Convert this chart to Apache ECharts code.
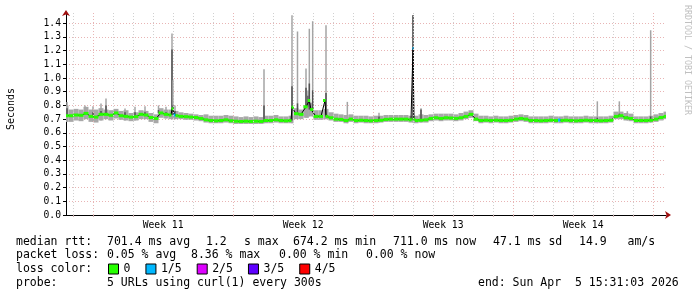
<!DOCTYPE html>
<html><head><meta charset="utf-8">
<script src="https://cdn.jsdelivr.net/npm/echarts@6/dist/echarts.min.js"></script>
<style>html,body{margin:0;padding:0;background:#fff}#c{width:697px;height:297px}</style>
</head><body><div id="c"></div>
<script>
// ---------- DATA ----------
const START = Date.UTC(2026, 2, 6, 15, 31, 3);
const END = Date.UTC(2026, 3, 5, 15, 31, 3);
const HOUR = 3600000;
const STEP_HOURS = 6; // base samples every 6 hours from START

const medianBase = [
 0.725,0.725,0.73,0.728,0.742,0.72,0.715,0.735,0.735,0.728,
 0.745,0.725,0.72,0.715,0.718,0.735,0.73,0.712,0.705,0.745,
 0.735,0.73,0.725,0.72,0.718,0.715,0.712,0.705,0.695,0.69,
 0.688,0.69,0.695,0.688,0.685,0.683,0.685,0.683,0.685,0.683,
 0.69,0.69,0.695,0.69,0.688,0.69,0.74,0.735,0.79,0.77,
 0.72,0.72,0.72,0.71,0.70,0.698,0.69,0.70,0.69,0.692,
 0.69,0.688,0.69,0.692,0.698,0.70,0.70,0.70,0.70,0.695,
 0.69,0.692,0.695,0.705,0.71,0.705,0.71,0.708,0.705,0.71,
 0.72,0.735,0.70,0.69,0.692,0.69,0.692,0.69,0.69,0.692,
 0.70,0.705,0.70,0.69,0.69,0.688,0.69,0.692,0.69,0.69,
 0.692,0.69,0.688,0.69,0.692,0.69,0.69,0.688,0.69,0.692,
 0.72,0.725,0.71,0.705,0.69,0.69,0.69,0.692,0.70,0.712,
 0.72
];
const smokeLo = [
 0.68,0.68,0.69,0.685,0.70,0.68,0.675,0.69,0.70,0.69,
 0.705,0.695,0.69,0.685,0.69,0.70,0.70,0.68,0.67,0.71,
 0.705,0.70,0.70,0.70,0.695,0.695,0.69,0.685,0.675,0.67,
 0.67,0.67,0.675,0.67,0.665,0.665,0.665,0.665,0.665,0.665,
 0.67,0.67,0.675,0.67,0.67,0.67,0.70,0.70,0.71,0.72,
 0.695,0.695,0.70,0.69,0.68,0.68,0.67,0.68,0.67,0.675,
 0.67,0.67,0.67,0.675,0.68,0.68,0.68,0.68,0.68,0.675,
 0.67,0.675,0.675,0.685,0.69,0.685,0.69,0.69,0.685,0.69,
 0.70,0.71,0.685,0.67,0.675,0.67,0.675,0.67,0.67,0.675,
 0.68,0.685,0.68,0.67,0.67,0.67,0.67,0.675,0.67,0.67,
 0.675,0.67,0.67,0.67,0.675,0.67,0.67,0.67,0.67,0.675,
 0.70,0.70,0.69,0.685,0.67,0.67,0.67,0.675,0.68,0.69,
 0.70
];
const smokeHi = [
 0.80,0.77,0.775,0.77,0.79,0.77,0.77,0.78,0.77,0.765,
 0.775,0.76,0.765,0.745,0.75,0.765,0.76,0.745,0.735,0.78,
 0.77,0.77,0.76,0.75,0.745,0.74,0.735,0.73,0.735,0.725,
 0.725,0.725,0.73,0.725,0.72,0.715,0.72,0.715,0.72,0.715,
 0.725,0.725,0.73,0.72,0.72,0.725,0.78,0.77,0.80,0.82,
 0.765,0.765,0.775,0.75,0.74,0.735,0.73,0.735,0.725,0.725,
 0.725,0.72,0.725,0.725,0.73,0.73,0.73,0.73,0.73,0.725,
 0.725,0.735,0.73,0.735,0.74,0.74,0.74,0.74,0.735,0.745,
 0.755,0.765,0.74,0.725,0.725,0.72,0.725,0.72,0.72,0.725,
 0.73,0.735,0.73,0.72,0.72,0.72,0.72,0.725,0.72,0.72,
 0.725,0.72,0.72,0.72,0.725,0.72,0.72,0.72,0.72,0.725,
 0.755,0.755,0.745,0.74,0.72,0.72,0.72,0.725,0.735,0.745,
 0.755
];
// extra median samples (hours after START), with loss count out of 5
const extraHours  = [127.2, 130.8, 271.2, 292.0, 310.8, 415.2, 416.4, 417.6, 592.8];
const extraMedian = [0.775, 0.73, 0.787, 0.836, 0.836, 0.70, 1.215, 0.70, 0.693];
const extraLoss   = [0, 1, 0, 0, 0, 0, 1, 0, 1];
// smoke spikes: hours after START, top of inner (dark) smoke, top of outer (light) smoke
const spikeHours = [1.2, 22.8, 32.4, 42, 48, 70.8, 82.8, 94.8, 111, 120, 127.2, 128.4, 130.8,
  237.6, 271.2, 277.8, 288, 290.4, 292, 296, 312, 337.6, 375.6, 416.4, 426, 484.8, 637.6, 664, 673.6, 701.6];
const spikeDark = [0.78, 0.74, 0.75, 0.76, 0.80, 0.75, 0.75, 0.75, 0.766, 0.75, 1.208, 0.80, 0.76,
  0.80, 0.94, 0.815, 0.93, 0.87, 0.96, 0.91, 0.89, 0.70, 0.72, 1.458, 0.77, 0.745, 0.71, 0.74, 0.72, 0.72];
const spikeLight = [0.825, 0.80, 0.795, 0.815, 0.851, 0.778, 0.79, 0.795, 0.80, 0.79, 1.325, 0.984, 0.80,
  1.065, 1.458, 1.34, 1.07, 0.91, 1.36, 1.415, 1.385, 0.826, 0.746, 1.46, 0.78, 0.758, 0.83, 0.83, 0.758, 1.349];

const yTickValues = [0, 0.1, 0.2, 0.3, 0.4, 0.5, 0.6, 0.7, 0.8, 0.9, 1.0, 1.1, 1.2, 1.3, 1.4];
const weekLabels = ['Week 11', 'Week 12', 'Week 13', 'Week 14'];
const weekCenters = [Date.UTC(2026,2,11,12), Date.UTC(2026,2,18,12), Date.UTC(2026,2,25,12), Date.UTC(2026,3,1,12)];
const lossNames = ['0', '1/5', '2/5', '3/5', '4/5'];
const lossColors = ['#26ff00', '#00b8ff', '#dd00ff', '#5e00ff', '#ff0000'];
const statTexts = [
  ['median rtt:', '701.4 ms avg', '1.2', 's max', '674.2 ms min', '711.0 ms now', '47.1 ms sd', '14.9   am/s'],
  ['packet loss:', '0.05 % avg', '8.36 % max', '0.00 % min', '0.00 % now'],
  ['loss color:'],
  ['probe:', '5 URLs using curl(1) every 300s', 'end: Sun Apr  5 15:31:03 2026']
];
const credit = 'RRDTOOL / TOBI OETIKER';
const yName = 'Seconds';

// ---------- LAYOUT ----------
const statX = [[16, 107, 206, 244, 293, 393, 493, 579], [16, 107, 191, 279, 366], [16], [16, 107, 478]];
const rowY = [241.7, 255, 269.3, 282.7];
const MONO = '"DejaVu Sans Mono", monospace';
const Y_MAX = 1.475;

// day grid lines
const dayLines = [], sundayLines = [];
for (let d = 7; d <= 36; d++) {
  const t = Date.UTC(2026, 2, d);
  if (t > END) break;
  if (new Date(t).getUTCDay() === 0) sundayLines.push(t); else dayLines.push(t);
}
const allDays = dayLines.concat(sundayLines).sort((a, b) => a - b);

// median samples merged
const med = medianBase.map((v, i) => [START + i * STEP_HOURS * HOUR, v, 0]);
extraHours.forEach((h, i) => med.push([START + h * HOUR, extraMedian[i], extraLoss[i]]));
med.sort((a, b) => a[0] - b[0]);
const STEP = STEP_HOURS * HOUR;
const medItems = med.map((p, i) => {
  const prev = i > 0 ? p[0] - med[i - 1][0] : STEP;
  const next = i < med.length - 1 ? med[i + 1][0] - p[0] : STEP;
  return [p[0], p[1], p[2], p[0] - prev / 2, p[0] + next / 2];
});
const smokeItems = medianBase.map((v, i) => [START + i * STEP, smokeLo[i], smokeHi[i]]);
const spikeItems = spikeHours.map((h, i) => {
  const bi = Math.min(medianBase.length - 1, Math.round(h / STEP_HOURS));
  return [START + h * HOUR, smokeLo[bi], medianBase[bi], spikeDark[i], spikeLight[i]];
});

const chart = echarts.init(document.getElementById('c'), null, { renderer: 'canvas' });

function axisArrowY() {
  return { type: 'value', min: 0, max: Y_MAX, position: 'left', z: 5,
    axisLine: { show: true, onZero: false, symbol: ['none', 'arrow'], symbolSize: [6, 6], symbolOffset: [0, 3],
      lineStyle: { color: '#a01010', opacity: 0 } },
    axisTick: { show: false }, axisLabel: { show: false }, splitLine: { show: false } };
}

const option = {
  animation: false,
  backgroundColor: '#fff',
  grid: { left: 66, right: 31, top: 13, bottom: 82 },
  xAxis: [{
    type: 'value', min: START, max: END,
    axisLine: { show: true, onZero: false, lineStyle: { color: '#000', width: 1 } },
    axisTick: { show: true, customValues: allDays, length: 2, lineStyle: { color: '#c8a8a8' } },
    axisLabel: { customValues: weekCenters, formatter: v => weekLabels[weekCenters.indexOf(v)] || '',
      fontFamily: MONO, fontSize: 9.7, color: '#000', margin: 5 },
    splitLine: { show: false }
  }, {
    type: 'value', min: START, max: END, position: 'bottom',
    axisLine: { show: true, onZero: false, symbol: ['none', 'arrow'], symbolSize: [6, 6], symbolOffset: [0, 5],
      lineStyle: { color: '#a01010', opacity: 0 } },
    axisTick: { show: false }, axisLabel: { show: false }, splitLine: { show: false }
  }],
  yAxis: [{
    type: 'value', min: 0, max: Y_MAX,
    axisLine: { show: true, onZero: false, lineStyle: { color: '#000', width: 1 } },
    axisTick: { show: true, customValues: yTickValues, length: 3, lineStyle: { color: '#000' } },
    axisLabel: { customValues: yTickValues, formatter: v => v.toFixed(1), fontFamily: MONO, fontSize: 9.7, color: '#000', margin: 5 },
    splitLine: { show: true, lineStyle: { color: '#e8b4b4', width: 1, type: [1, 2] } }
  }, axisArrowY()],
  legend: {
    data: lossNames, left: 108, top: 263, padding: 0, itemWidth: 10, itemHeight: 10, itemGap: 15,
    icon: 'rect', selectedMode: false,
    textStyle: { fontFamily: MONO, fontSize: 11.5, color: '#000' },
    itemStyle: { borderColor: '#000', borderWidth: 1 }
  },
  graphic: [
    { type: 'text', x: 11, y: 109, rotation: Math.PI / 2,
      style: { text: yName, fontFamily: MONO, fontSize: 10, fill: '#000', align: 'center', verticalAlign: 'middle' } },
    { type: 'text', x: 687, y: 60, rotation: -Math.PI / 2,
      style: { text: credit, fontFamily: MONO, fontSize: 8.3, fill: '#c0c0c0', align: 'center', verticalAlign: 'middle' } }
  ].concat(...statTexts.map((row, r) => row.map((txt, k) => ({
    type: 'text', x: statX[r][k], y: rowY[r],
    style: { text: txt, fontFamily: MONO, fontSize: 11.5, fill: '#000', align: 'left', verticalAlign: 'middle' }
  })))),
  series: [
    { type: 'line', data: [], z: 0, silent: true,
      markLine: { silent: true, symbol: ['none', 'none'], label: { show: false },
        lineStyle: { color: '#d0d0d0', type: [1, 2], width: 1 }, emphasis: { disabled: true },
        data: dayLines.map(t => ({ xAxis: t })) } },
    { type: 'line', data: [], z: 0, silent: true,
      markLine: { silent: true, symbol: ['none', 'none'], label: { show: false },
        lineStyle: { color: '#e8b4b4', type: [1, 2], width: 1 }, emphasis: { disabled: true },
        data: sundayLines.map(t => ({ xAxis: t })) } },
    { type: 'custom', z: 1, silent: true, clip: true, data: smokeItems,
      renderItem: (params, api) => {
        const a = api.coord([api.value(0) - STEP / 2, api.value(2)]);
        const b = api.coord([api.value(0) + STEP / 2, api.value(1)]);
        return { type: 'rect', shape: { x: a[0], y: a[1], width: b[0] - a[0], height: b[1] - a[1] },
          style: { fill: '#a8a8a8' } };
      } },
    { type: 'custom', z: 2, silent: true, clip: true, data: spikeItems,
      renderItem: (params, api) => {
        const t = api.value(0);
        const lo = api.coord([t, api.value(1)]);
        const md = api.coord([t, api.value(2)]);
        const dk = api.coord([t, api.value(3)]);
        const lt = api.coord([t, api.value(4)]);
        return { type: 'group', children: [
          { type: 'rect', shape: { x: lo[0] - 0.75, y: lt[1], width: 1.5, height: lo[1] - lt[1] }, style: { fill: '#a4a4a4' } },
          { type: 'rect', shape: { x: lo[0] - 0.75, y: dk[1], width: 1.5, height: Math.max(0, md[1] - dk[1]) }, style: { fill: '#505050' } }
        ] };
      } },
    { type: 'line', z: 3, silent: true, data: med.map(p => [p[0], p[1]]), showSymbol: false, symbol: 'none',
      lineStyle: { color: '#000', width: 1 } },
    { type: 'custom', z: 4, silent: true, clip: true, data: medItems,
      renderItem: (params, api) => {
        const v = api.value(1);
        const a = api.coord([api.value(3), v]);
        const b = api.coord([api.value(4), v]);
        return { type: 'rect', shape: { x: a[0], y: a[1] - 1.5, width: Math.max(1, b[0] - a[0]), height: 3 },
          style: { fill: lossColors[api.value(2)] } };
      } }
  ].concat(lossNames.map((n, i) => ({ name: n, type: 'line', data: [], itemStyle: { color: lossColors[i] },
      lineStyle: { color: lossColors[i] } })))
};
chart.setOption(option);
</script></body></html>
